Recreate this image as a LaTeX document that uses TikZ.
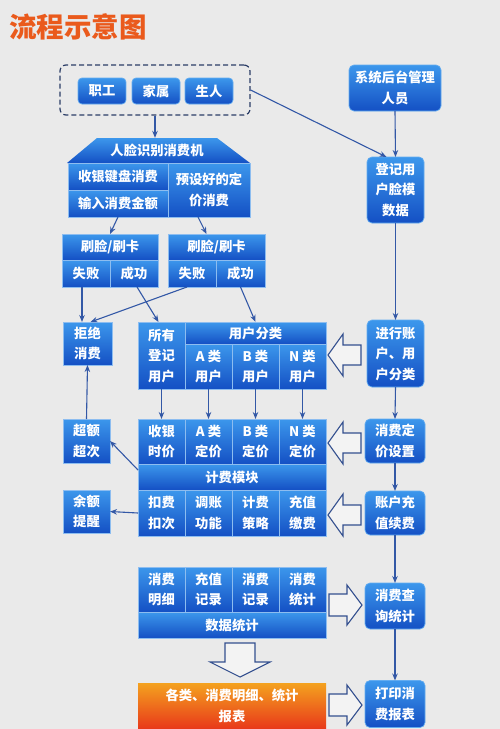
\documentclass[tikz,border=0pt]{standalone}
\usepackage{fontspec}
\newfontfamily\cjk{Noto Sans CJK SC}
\usetikzlibrary{arrows.meta,calc}
\definecolor{bg}{HTML}{EAEAEA}
\definecolor{btop}{HTML}{3C97EC}
\definecolor{bbot}{HTML}{1450C4}
\definecolor{cellline}{HTML}{8DBDF0}
\definecolor{lineblue}{HTML}{3358A6}
\definecolor{hollowline}{HTML}{34508F}
\definecolor{hollowfill}{HTML}{F3F3F3}
\definecolor{dashcol}{HTML}{2B3D66}
\definecolor{otop}{HTML}{F4A21F}
\definecolor{obot}{HTML}{E8381A}
\definecolor{titlecol}{HTML}{EA5A1C}
\tikzset{
  cell/.style={draw=cellline, line width=0.7pt, top color=btop, bottom color=bbot,
    text=white, font=\cjk\bfseries\fontsize{13.3}{20.5}\selectfont, align=center,
    inner sep=0pt, outer sep=0pt},
  rbox/.style={cell, rounded corners=5pt, draw=btop!80!white},
  conn/.style={draw=lineblue, line width=1.1pt, -{Stealth[length=7pt,width=5.5pt]}},
  hollow/.style={draw=hollowline, fill=hollowfill, line width=1.1pt, line join=miter},
}
\newcommand{\hollowL}[2]{\path[hollow] (#1,#2) -- ({#1+15},{#2-21}) -- ({#1+15},{#2-10}) -- ({#1+33},{#2-10}) -- ({#1+33},{#2+10}) -- ({#1+15},{#2+10}) -- ({#1+15},{#2+21}) -- cycle;}
\newcommand{\hollowR}[2]{\path[hollow] (#1,#2) -- ({#1-15},{#2-20}) -- ({#1-15},{#2-11}) -- ({#1-33},{#2-11}) -- ({#1-33},{#2+11}) -- ({#1-15},{#2+11}) -- ({#1-15},{#2+20}) -- cycle;}
\begin{document}
\begin{tikzpicture}[x=1pt,y=-1pt]
\useasboundingbox (0,0) rectangle (500,729);
\fill[bg] (0,0) rectangle (500,729);

% title
\node[anchor=west, text=titlecol, font=\cjk\bfseries\fontsize{27.5}{30}\selectfont, inner sep=0pt] (title) at (9,27) {流程示意图};

% group of people
\node[draw=dashcol, dash pattern=on 5pt off 3pt, line width=1.2pt, rounded corners=6pt,
  minimum width=190, minimum height=50, inner sep=0pt] (grp) at (155,90) {};
\node[rbox, rounded corners=4pt, minimum width=48, minimum height=26] (p1) at (102,91) {职工};
\node[rbox, rounded corners=4pt, minimum width=48, minimum height=26] (p2) at (156,91) {家属};
\node[rbox, rounded corners=4pt, minimum width=48, minimum height=26] (p3) at (209,91) {生人};

% right column
\node[rbox, minimum width=92, minimum height=46] (admin) at (395,88) {系统后台管理\\人员};
\node[rbox, minimum width=57, minimum height=66] (reg) at (395.5,190) {登记用\\户脸模\\数据};
\node[rbox, minimum width=57, minimum height=67] (acct) at (395.5,353.5) {进行账\\户、用\\户分类};
\node[rbox, minimum width=60, minimum height=44] (price) at (395,441) {消费定\\价设置};
\node[rbox, minimum width=60, minimum height=44] (recharge) at (395,513) {账户充\\值续费};
\node[rbox, minimum width=60, minimum height=46] (query) at (395,606) {消费查\\询统计};
\node[rbox, minimum width=60, minimum height=47] (print) at (395,704) {打印消\\费报表};

% face recognition machine
\path[top color=btop, bottom color=bbot] (67,163) -- (97,138) -- (217,138) -- (250,163) -- cycle;
\node[text=white, font=\cjk\bfseries\fontsize{13.3}{20.5}\selectfont, minimum width=120, minimum height=25, inner sep=0pt] (machine) at (157,150.5) {人脸识别消费机};
\node[cell, minimum width=100, minimum height=27] (k1) at (118,176.5) {收银键盘消费};
\node[cell, minimum width=100, minimum height=27] (k2) at (118,203.5) {输入消费金额};
\node[cell, minimum width=82, minimum height=54] (preset) at (209,190) {预设好的定\\价消费};

% swipe blocks
\node[cell, minimum width=96, minimum height=26] (s1) at (110,247) {刷脸/刷卡};
\node[cell, minimum width=48, minimum height=27] (s1f) at (86,273.5) {失败};
\node[cell, minimum width=48, minimum height=27] (s1s) at (134,273.5) {成功};
\node[cell, minimum width=97, minimum height=26] (s2) at (216.5,247) {刷脸/刷卡};
\node[cell, minimum width=48, minimum height=27] (s2f) at (192,273.5) {失败};
\node[cell, minimum width=49, minimum height=27] (s2s) at (240.5,273.5) {成功};

% left column
\node[cell, minimum width=49, minimum height=43] (reject) at (87.5,343.5) {拒绝\\消费};
\node[cell, minimum width=47, minimum height=44] (over) at (86.5,441) {超额\\超次};
\node[cell, minimum width=47, minimum height=43] (bal) at (86.5,511.5) {余额\\提醒};

% user classification block
\node[cell, minimum width=47, minimum height=67] (allreg) at (161.5,355.5) {所有\\登记\\用户};
\node[cell, minimum width=141, minimum height=22] (ucls) at (255.5,333) {用户分类};
\node[cell, minimum width=47, minimum height=45] (ua) at (208.5,366.5) {A 类\\用户};
\node[cell, minimum width=47, minimum height=45] (ub) at (255.5,366.5) {B 类\\用户};
\node[cell, minimum width=47, minimum height=45] (un) at (302.5,366.5) {N 类\\用户};

% billing block
\node[cell, minimum width=47, minimum height=45] (q0) at (161.5,441.5) {收银\\时价};
\node[cell, minimum width=47, minimum height=45] (qa) at (208.5,441.5) {A 类\\定价};
\node[cell, minimum width=47, minimum height=45] (qb) at (255.5,441.5) {B 类\\定价};
\node[cell, minimum width=47, minimum height=45] (qn) at (302.5,441.5) {N 类\\定价};
\node[cell, minimum width=188, minimum height=26] (jf) at (232,477) {计费模块};
\node[cell, minimum width=47, minimum height=46] (f0) at (161.5,513) {扣费\\扣次};
\node[cell, minimum width=47, minimum height=46] (f1) at (208.5,513) {调账\\功能};
\node[cell, minimum width=47, minimum height=46] (f2) at (255.5,513) {计费\\策略};
\node[cell, minimum width=47, minimum height=46] (f3) at (302.5,513) {充值\\缴费};

% statistics block
\node[cell, minimum width=47, minimum height=45] (d0) at (161.5,589.5) {消费\\明细};
\node[cell, minimum width=47, minimum height=45] (d1) at (208.5,589.5) {充值\\记录};
\node[cell, minimum width=47, minimum height=45] (d2) at (255.5,589.5) {消费\\记录};
\node[cell, minimum width=47, minimum height=45] (d3) at (302.5,589.5) {消费\\统计};
\node[cell, minimum width=188, minimum height=26] (stat) at (232,625) {数据统计};

% report
\node[cell, draw=none, top color=otop, bottom color=obot, minimum width=188, minimum height=46] (report) at (232,706) {各类、消费明细、统计\\报表};

% connectors
\draw[conn] (grp.south) -- (grp.south |- machine.north);
\draw[conn] (grp.east) -- ([xshift=-9pt]reg.north);
\draw[conn] (admin.south) -- (reg.north);
\draw[conn] (reg.south) -- (acct.north);
\draw[conn] (acct.south) -- (price.north);
\draw[conn] (price.south) -- (recharge.north);
\draw[conn] (recharge.south) -- (query.north);
\draw[conn] (query.south) -- (print.north);
\draw[conn] (k2.south) -- (s1.north);
\draw[conn] ([xshift=-11pt]preset.south) -- ([xshift=-10pt]s2.north);
\draw[conn] ([xshift=-4pt]s1f.south) -- ([xshift=-4pt]s1f.south |- reject.north);
\draw[conn] ([xshift=-5pt]s2f.south) -- ([xshift=3pt]reject.north);
\draw[conn] ([xshift=3pt]s1s.south) -- ([xshift=-3pt]allreg.north);
\draw[conn] (s2s.south) -- (ucls.north);
\draw[conn] (allreg.south) -- (q0.north);
\draw[conn] (ua.south) -- (qa.north);
\draw[conn] (ub.south) -- (qb.north);
\draw[conn] (un.south) -- (qn.north);
\draw[conn] (over.north) -- (reject.south);
\draw[conn] ([yshift=-6pt]jf.north west) -- (over.east);
\draw[conn] (f0.west) -- (bal.east);

% hollow arrows
\hollowL{328}{355}
\hollowL{328}{443}
\hollowL{328}{515}
\hollowR{362}{605}
\hollowR{362}{705}
\path[hollow] (240,677) -- (210,662) -- (225,662) -- (225,643) -- (255,643) -- (255,662) -- (270,662) -- cycle;
\end{tikzpicture}
\end{document}
